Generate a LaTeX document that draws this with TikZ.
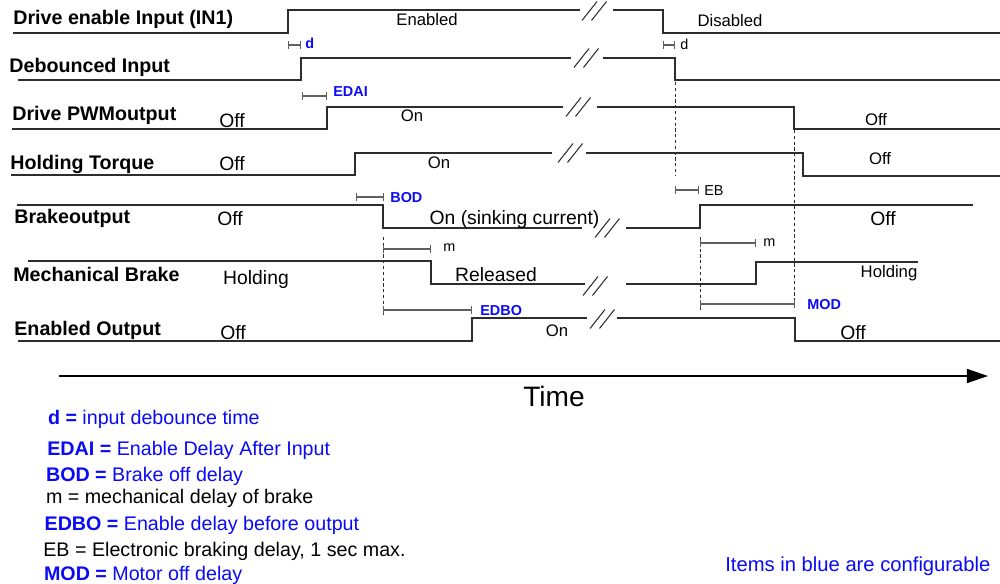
\documentclass[tikz,border=0pt]{standalone}
\usepackage{fontspec}
\setmainfont{Liberation Sans}
\usepackage{xcolor}
\usepackage{tikz}
\usetikzlibrary{arrows.meta}
\definecolor{cfgblue}{RGB}{10,10,245}
\definecolor{sigdark}{RGB}{45,45,45}
\definecolor{dimgrey}{RGB}{95,95,95}
\tikzset{
  sigline/.style={
    line width=0.75pt,
    draw=sigdark
  },
  siglabel/.style={
    anchor=base west,
    inner sep=0pt,
    font=\fontsize{11.2}{13}\selectfont\bfseries
  },
  statetext/.style={
    anchor=base,
    inner sep=0pt,
    font=\fontsize{11}{13}\selectfont
  },
  smallstate/.style={
    anchor=base,
    inner sep=0pt,
    font=\fontsize{9.5}{11}\selectfont
  },
  dimline/.style={
    arrows={{Bar[width=4pt]}-{Bar[width=4pt]}},
    line width=0.6pt,
    draw=dimgrey
  },
  dimtag/.style={
    anchor=base west,
    inner sep=0pt,
    text=cfgblue,
    font=\fontsize{8.2}{10}\selectfont\bfseries
  },
  plaintag/.style={
    anchor=base west,
    inner sep=0pt,
    font=\fontsize{8.2}{10}\selectfont
  },
  guide/.style={
    line width=0.5pt,
    draw=sigdark,
    dash pattern=on 1.8pt off 1.5pt
  },
  breakmark/.style={
    line width=0.6pt,
    draw=sigdark
  },
  legendline/.style={
    anchor=base west,
    inner sep=0pt,
    font=\fontsize{11.2}{13}\selectfont
  }
}

\begin{document}
\begin{tikzpicture}[x=0.02cm,y=-0.02cm]
\useasboundingbox (0,0) rectangle (1000,584);

\node[siglabel] (lblinput) at (13,25) {Drive enable Input (IN1)};
\node[siglabel] (lbldebounce) at (9,72.7) {Debounced Input};
\node[siglabel] (lblpwm) at (12,120.7) {Drive PWMoutput};
\node[siglabel] (lbltorque) at (10,169.3) {Holding Torque};
\node[siglabel] (lblbrakeout) at (14,223.3) {Brakeoutput};
\node[siglabel] (lblmech) at (13,281.7) {Mechanical Brake};
\node[siglabel] (lblenabled) at (14,335.7) {Enabled Output};

\draw[sigline] (13,33) -- (288,33) -- (288,10) -- (580,10);
\draw[sigline] (613,10) -- (663,10) -- (663,33) -- (1000,33);
\draw[sigline] (18,80) -- (301,80) -- (301,58) -- (571,58);
\draw[sigline] (603,58) -- (675,58) -- (675,80) -- (1000,80);
\draw[sigline] (12,129) -- (327,129) -- (327,107) -- (563,107);
\draw[sigline] (597,107) -- (794,107) -- (794,129) -- (1000,129);
\draw[sigline] (11,175) -- (355,175) -- (355,153) -- (552,153);
\draw[sigline] (586,153) -- (803,153) -- (803,176) -- (1000,176);
\draw[sigline] (17,205) -- (383,205) -- (383,228) -- (582,228);
\draw[sigline] (626,228) -- (700,228) -- (700,205) -- (973,205);
\draw[sigline] (28,261) -- (431,261) -- (431,284) -- (585,284);
\draw[sigline] (626,284) -- (756,284) -- (756,262) -- (918,262);
\draw[sigline] (18,341) -- (472,341) -- (472,318) -- (587,318);
\draw[sigline] (617,318) -- (795,318) -- (795,341) -- (1000,341);

\foreach \bx/\by in {594/11,586/58,578/107,570/153,607/228,595/286,602/319}
  \draw[breakmark] (\bx-12,\by+9.5) -- ++(15,-19) (\bx-2.5,\by+9.5) -- ++(15,-19);

\draw[guide] (675,82) -- (675,175);
\draw[guide] (794,130) -- (794,304);
\draw[guide] (383,237) -- (383,315);
\draw[guide] (700,237) -- (700,310);

\node[smallstate] (txtenabled) at (427,26) {Enabled};
\node[smallstate] (txtdisabled) at (730,26.7) {Disabled};
\node[statetext] (pwmoff) at (232,127.7) {Off};
\node[smallstate] (pwmon) at (412,121.7) {On};
\node[smallstate] (pwmoffb) at (876,126) {Off};
\node[statetext] (torqueoff) at (232,171) {Off};
\node[smallstate] (torqueon) at (439,169) {On};
\node[smallstate] (torqueoffb) at (880,164.3) {Off};
\node[statetext] (brakeoff) at (230,225.7) {Off};
\node[statetext] (brakeon) at (514.5,224.5) {On (sinking current)};
\node[statetext] (brakeoffb) at (883,226) {Off};
\node[statetext] (mechhold) at (256,284) {Holding};
\node[statetext] (mechrel) at (496,281.7) {Released};
\node[smallstate] (mechholdb) at (889,277.7) {Holding};
\node[statetext] (enoff) at (233,339.3) {Off};
\node[smallstate] (enon) at (557,336.7) {On};
\node[statetext] (enoffb) at (853,339.3) {Off};

\draw[dimline] (288,45) -- (301,45);
\node[dimtag] (tagd) at (305,49) {d};
\draw[dimline] (663,45) -- (675,45);
\node[plaintag] (tagdb) at (680,50) {d};
\draw[dimline] (302,96) -- (327,96);
\node[dimtag] (tagedai) at (333,96.7) {EDAI};
\draw[dimline] (356,197) -- (384,197);
\node[dimtag] (tagbod) at (390,202.7) {BOD};
\draw[dimline] (675,190) -- (699,190);
\node[plaintag] (tageb) at (704,195) {EB};
\draw[dimline] (383,249) -- (431,249);
\node[plaintag] (tagm) at (443,251.7) {m};
\draw[dimline] (700,243) -- (756,243);
\node[plaintag] (tagmb) at (763,246.7) {m};
\draw[dimline] (383,310) -- (472,310);
\node[dimtag] (tagedbo) at (480,315) {EDBO};
\draw[dimline] (700,304) -- (795,304);
\node[dimtag] (tagmod) at (807,309) {MOD};

\draw[line width=0.75pt, -{Triangle[length=12pt,width=8pt]}] (59,376) -- (988,376);
\node[anchor=base, inner sep=0pt, font=\fontsize{16}{19}\selectfont] (timelbl) at (554,406) {Time};

\node[legendline, text=cfgblue] (legd) at (47.7,424) {\textbf{d =} input debounce time};
\node[legendline, text=cfgblue] (legedai) at (47,455) {\textbf{EDAI =} Enable Delay After Input};
\node[legendline, text=cfgblue] (legbod) at (45.7,481) {\textbf{BOD =} Brake off delay};
\node[legendline] (legm) at (45.7,503) {m = mechanical delay of brake};
\node[legendline, text=cfgblue] (legedbo) at (44.3,530.7) {\textbf{EDBO =} Enable delay before output};
\node[legendline] (legeb) at (43,556.7) {EB = Electronic braking delay, 1 sec max.};
\node[legendline, text=cfgblue] (legmod) at (43.7,580) {\textbf{MOD =} Motor off delay};
\node[legendline, text=cfgblue, font=\fontsize{11.5}{13}\selectfont] (legnote) at (725,571) {Items in blue are configurable};
\end{tikzpicture}
\end{document}
